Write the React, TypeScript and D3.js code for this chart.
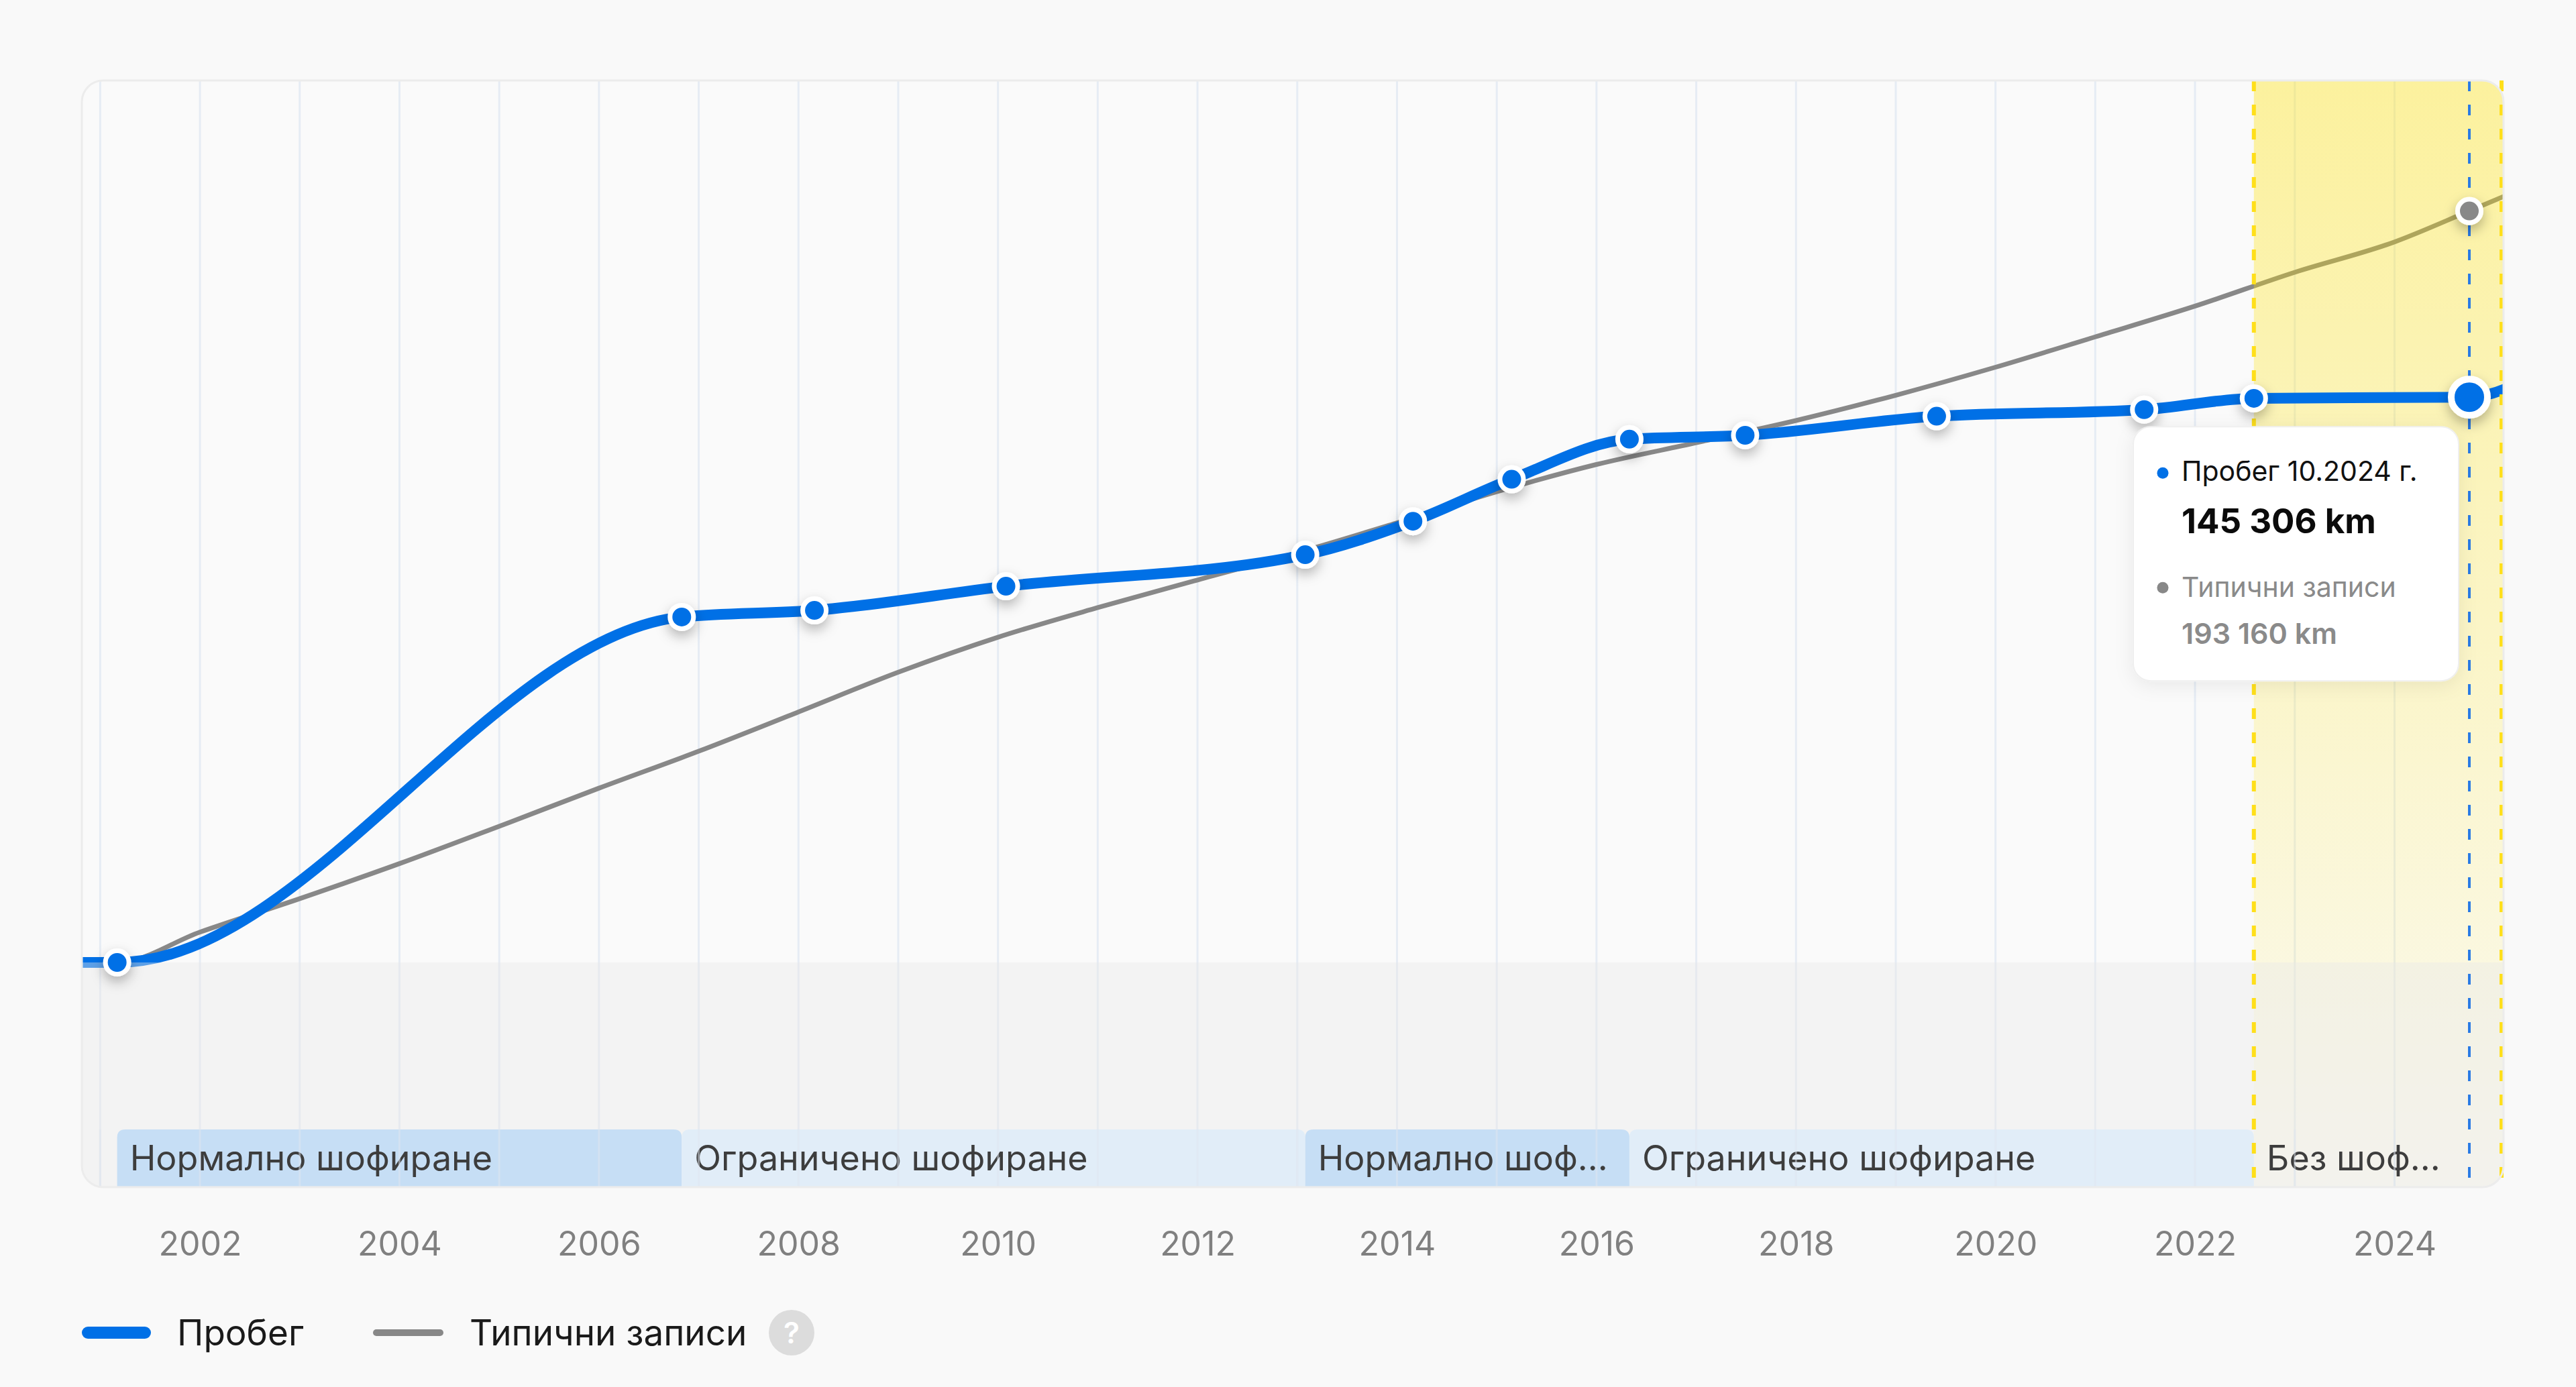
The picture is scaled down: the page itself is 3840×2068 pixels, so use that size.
import React, { useRef, useEffect } from 'react';
import * as d3 from 'd3';

const WIDTH = 3840;
const HEIGHT = 2068;

// Mileage records: decimal year + km (last one lies past the visible range)
const mileageDates = [2001.17, 2006.83, 2008.16, 2010.08, 2013.08, 2014.16, 2015.15, 2016.33, 2017.49, 2019.41, 2021.49, 2022.59, 2024.75, 2025.5];
const mileageKm = [0, 88800, 90500, 96700, 104800, 113400, 124200, 134500, 135500, 140400, 142100, 145000, 145306, 152500];
const visibleRecords = 13;

// Typical records curve
const typicalDates = [2001.17, 2002, 2003, 2004, 2005, 2006, 2007, 2008, 2009, 2010, 2011, 2012, 2013, 2014, 2015, 2016, 2017, 2018, 2019, 2020, 2021, 2022, 2023, 2024, 2024.75, 2025.5];
const typicalKm = [0, 7800, 16400, 25400, 35000, 44800, 54300, 64400, 74600, 83600, 91200, 98300, 105300, 113000, 121000, 128000, 133600, 139300, 145800, 153000, 160800, 168700, 177400, 185200, 193160, 201300];

// Driving phases
const phaseStarts = [2001.17, 2006.83, 2013.08, 2016.33, 2022.59];
const phaseEnds = [2006.83, 2013.08, 2016.33, 2022.59, 2024.75];
const phaseLabels = ['Нормално шофиране', 'Ограничено шофиране', 'Нормално шофиране', 'Ограничено шофиране', 'Без шофиране'];
const phaseKinds = ['normal', 'limited', 'normal', 'limited', 'none'];

const yearTicks = [2002, 2004, 2006, 2008, 2010, 2012, 2014, 2016, 2018, 2020, 2022, 2024];
const gridYears = [2001, 2002, 2003, 2004, 2005, 2006, 2007, 2008, 2009, 2010, 2011, 2012, 2013, 2014, 2015, 2016, 2017, 2018, 2019, 2020, 2021, 2022, 2023, 2024];

const xDomain = [2000.816, 2025.093];
const yMax = 226700;

const highlightFrom = 2022.59;
const selectedIndex = 12;
const selectedTypical = 193160;
const selectedLabel = 'Пробег 10.2024 г.';
const typicalLabel = 'Типични записи';
const mileageLabel = 'Пробег';

const BLUE = '#0070e6';
const GREY = '#888888';
const FONT = "Inter, 'Noto Sans', sans-serif";

const App: React.FC = () => {
    const svgRef = useRef<SVGSVGElement | null>(null);

    useEffect(() => {
        if (!svgRef.current) return;
        const svg = d3.select(svgRef.current);
        svg.selectAll('*').remove();

        const margin = { top: 120, right: 108, left: 122 };
        const plotRight = WIDTH - margin.right;
        const plotBottom = 1770;
        const zeroY = 1435;
        const plotW = plotRight - margin.left;
        const plotH = plotBottom - margin.top;

        const x = d3.scaleLinear().domain(xDomain).range([margin.left, plotRight]);
        const y = d3.scaleLinear().domain([0, yMax]).range([zeroY, margin.top]);

        const km = d3.formatLocale({ decimal: ',', thousands: ' ', grouping: [3], currency: ['', ''] }).format(',d');

        const mileage: [number, number][] = [[xDomain[0], mileageKm[0]], ...mileageDates.map((d, i) => [d, mileageKm[i]] as [number, number])];
        const typical: [number, number][] = [[xDomain[0], typicalKm[0]], ...typicalDates.map((d, i) => [d, typicalKm[i]] as [number, number])];

        const defs = svg.append('defs');
        defs.append('clipPath').attr('id', 'plot-clip')
            .append('rect')
            .attr('x', margin.left).attr('y', margin.top)
            .attr('width', plotW).attr('height', plotH).attr('rx', 32);

        const grad = defs.append('linearGradient').attr('id', 'hl-grad')
            .attr('x1', 0).attr('y1', 0).attr('x2', 0).attr('y2', 1);
        grad.append('stop').attr('offset', '0%').attr('stop-color', '#ffe200').attr('stop-opacity', 0.37);
        grad.append('stop').attr('offset', '100%').attr('stop-color', '#ffe200').attr('stop-opacity', 0.04);

        const mShadow = defs.append('filter').attr('id', 'marker-shadow')
            .attr('x', '-100%').attr('y', '-100%').attr('width', '300%').attr('height', '300%');
        mShadow.append('feDropShadow').attr('dx', 0).attr('dy', 8).attr('stdDeviation', 9)
            .attr('flood-color', '#000').attr('flood-opacity', 0.28);

        const tShadow = defs.append('filter').attr('id', 'tip-shadow')
            .attr('x', '-20%').attr('y', '-20%').attr('width', '140%').attr('height', '140%');
        tShadow.append('feDropShadow').attr('dx', 0).attr('dy', 6).attr('stdDeviation', 14)
            .attr('flood-color', '#000').attr('flood-opacity', 0.07);

        svg.append('rect').attr('width', WIDTH).attr('height', HEIGHT).attr('fill', '#f9f9f9');

        const plot = svg.append('g').attr('clip-path', 'url(#plot-clip)');
        plot.append('rect')
            .attr('x', margin.left).attr('y', margin.top)
            .attr('width', plotW).attr('height', plotH)
            .attr('fill', '#fafafa');

        plot.append('g').selectAll('line')
            .data(gridYears)
            .join('line')
            .attr('x1', d => x(d)).attr('x2', d => x(d))
            .attr('y1', margin.top).attr('y2', plotBottom)
            .attr('stroke', '#e6ecf4').attr('stroke-width', 3);

        const line = d3.line<[number, number]>()
            .x(d => x(d[0]))
            .y(d => y(d[1]))
            .curve(d3.curveMonotoneX);

        plot.append('path')
            .datum(typical)
            .attr('d', line)
            .attr('fill', 'none')
            .attr('stroke', GREY)
            .attr('stroke-width', 7);

        // highlighted period
        plot.append('rect')
            .attr('x', x(highlightFrom)).attr('y', margin.top)
            .attr('width', plotRight - x(highlightFrom)).attr('height', plotH)
            .attr('fill', 'url(#hl-grad)');

        plot.append('path')
            .datum(mileage)
            .attr('d', line)
            .attr('fill', 'none')
            .attr('stroke', BLUE)
            .attr('stroke-width', 16)
            .attr('stroke-linejoin', 'round');

        // area below zero
        plot.append('rect')
            .attr('x', margin.left).attr('y', zeroY)
            .attr('width', plotW).attr('height', plotBottom - zeroY)
            .attr('fill', '#e8e8e8').attr('fill-opacity', 0.4);

        // phase bands
        const bandTop = 1684;
        const bandR = 12;
        const phases = phaseLabels.map((label, i) => ({
            label, kind: phaseKinds[i], x0: x(phaseStarts[i]), x1: x(phaseEnds[i]),
        }));
        const bandFill: Record<string, string> = { normal: '#c6def5', limited: '#e1edf8', none: 'none' };

        const bands = plot.append('g').selectAll('g')
            .data(phases)
            .join('g');

        bands.append('path')
            .attr('d', d => `M${d.x0},${plotBottom + 10}V${bandTop + bandR}Q${d.x0},${bandTop} ${d.x0 + bandR},${bandTop}H${d.x1 - bandR}Q${d.x1},${bandTop} ${d.x1},${bandTop + bandR}V${plotBottom + 10}Z`)
            .attr('fill', d => bandFill[d.kind]);

        bands.append('text')
            .attr('x', d => d.x0 + 19)
            .attr('y', 1745)
            .attr('font-family', FONT)
            .attr('font-size', 52)
            .attr('fill', '#3d3d3d')
            .each(function (d) {
                const t = d3.select(this);
                const node = this as SVGTextElement;
                const maxW = d.x1 - d.x0 - 44;
                let label = d.label;
                t.text(label);
                if (node.getComputedTextLength() > maxW) {
                    while (label.length > 1) {
                        label = label.slice(0, -1);
                        t.text(label.trimEnd() + '...');
                        if (node.getComputedTextLength() <= maxW) break;
                    }
                }
            });

        // faint grid over the bands
        plot.append('g').selectAll('line')
            .data(gridYears)
            .join('line')
            .attr('x1', d => x(d)).attr('x2', d => x(d))
            .attr('y1', bandTop).attr('y2', plotBottom)
            .attr('stroke', '#dfe6ef').attr('stroke-width', 3).attr('stroke-opacity', 0.5);

        // dashed guides
        const selX = x(mileageDates[selectedIndex]);
        const guides = [
            { gx: x(highlightFrom), color: '#ffdf1a', w: 6 },
            { gx: plotRight - 3, color: '#ffdf1a', w: 6 },
            { gx: selX, color: '#2a7be4', w: 4 },
        ];
        svg.append('g').selectAll('line')
            .data(guides)
            .join('line')
            .attr('x1', d => d.gx).attr('x2', d => d.gx)
            .attr('y1', margin.top).attr('y2', plotBottom - 6)
            .attr('stroke', d => d.color)
            .attr('stroke-width', d => d.w)
            .attr('stroke-dasharray', '16 20');

        svg.append('rect')
            .attr('x', margin.left).attr('y', margin.top)
            .attr('width', plotW).attr('height', plotH).attr('rx', 32)
            .attr('fill', 'none').attr('stroke', '#ececec').attr('stroke-width', 3);

        // markers
        const records = mileageDates.slice(0, visibleRecords).map((d, i) => ({ d, v: mileageKm[i], big: i === selectedIndex }));
        svg.append('g').selectAll('circle')
            .data(records)
            .join('circle')
            .attr('cx', d => x(d.d))
            .attr('cy', d => y(d.v))
            .attr('r', d => (d.big ? 27 : 17.5))
            .attr('fill', BLUE)
            .attr('stroke', '#fff')
            .attr('stroke-width', d => (d.big ? 10 : 7))
            .attr('filter', 'url(#marker-shadow)');

        svg.append('circle')
            .attr('cx', selX)
            .attr('cy', y(selectedTypical))
            .attr('r', 17.5)
            .attr('fill', GREY)
            .attr('stroke', '#fff')
            .attr('stroke-width', 7)
            .attr('filter', 'url(#marker-shadow)');

        // tooltip
        const tip = svg.append('g')
            .attr('transform', `translate(${selX - 501},${y(mileageKm[selectedIndex]) + 44})`)
            .attr('font-family', FONT);
        tip.append('rect')
            .attr('width', 485).attr('height', 379).attr('rx', 26)
            .attr('fill', '#fff').attr('stroke', '#efefef').attr('stroke-width', 2)
            .attr('filter', 'url(#tip-shadow)');
        tip.append('circle').attr('cx', 44).attr('cy', 69).attr('r', 8.5).attr('fill', BLUE);
        tip.append('text').attr('x', 72).attr('y', 81)
            .attr('font-size', 41).attr('fill', '#111').text(selectedLabel);
        tip.append('text').attr('x', 72).attr('y', 159)
            .attr('font-size', 51).attr('font-weight', 700).attr('fill', '#0b0b0b')
            .text(`${km(mileageKm[selectedIndex])} km`);
        tip.append('circle').attr('cx', 44).attr('cy', 240).attr('r', 8.5).attr('fill', GREY);
        tip.append('text').attr('x', 72).attr('y', 254)
            .attr('font-size', 41).attr('fill', '#8a8a8a').text(typicalLabel);
        tip.append('text').attr('x', 72).attr('y', 324)
            .attr('font-size', 43).attr('font-weight', 600).attr('fill', '#8a8a8a')
            .text(`${km(selectedTypical)} km`);

        // x axis
        const axis = svg.append('g')
            .attr('transform', `translate(0,${plotBottom})`)
            .call(d3.axisBottom(x).tickValues(yearTicks).tickFormat(d3.format('d')).tickSize(0).tickPadding(102));
        axis.select('.domain').remove();
        axis.selectAll('text')
            .attr('font-family', FONT)
            .attr('font-size', 50)
            .attr('fill', '#808080')
            .attr('dy', 0);

        // legend
        const legend = svg.append('g').attr('font-family', FONT);
        legend.append('line')
            .attr('x1', 131).attr('x2', 216).attr('y1', 1987).attr('y2', 1987)
            .attr('stroke', BLUE).attr('stroke-width', 18).attr('stroke-linecap', 'round');
        legend.append('text').attr('x', 264).attr('y', 2006)
            .attr('font-size', 53).attr('fill', '#1a1a1a').text(mileageLabel);
        legend.append('line')
            .attr('x1', 561).attr('x2', 656).attr('y1', 1987).attr('y2', 1987)
            .attr('stroke', GREY).attr('stroke-width', 10).attr('stroke-linecap', 'round');
        legend.append('text').attr('x', 700).attr('y', 2006)
            .attr('font-size', 53).attr('fill', '#1a1a1a').text(typicalLabel);
        legend.append('circle').attr('cx', 1180).attr('cy', 1987).attr('r', 34).attr('fill', '#dcdcdc');
        legend.append('text').attr('x', 1180).attr('y', 2003)
            .attr('text-anchor', 'middle').attr('font-size', 44).attr('font-weight', 600)
            .attr('fill', '#fff').text('?');
    }, []);

    return (
        <svg
            ref={svgRef}
            width={WIDTH}
            height={HEIGHT}
            style={{ position: 'absolute', left: 0, top: 0, display: 'block' }}
        />
    );
};

export default App;
